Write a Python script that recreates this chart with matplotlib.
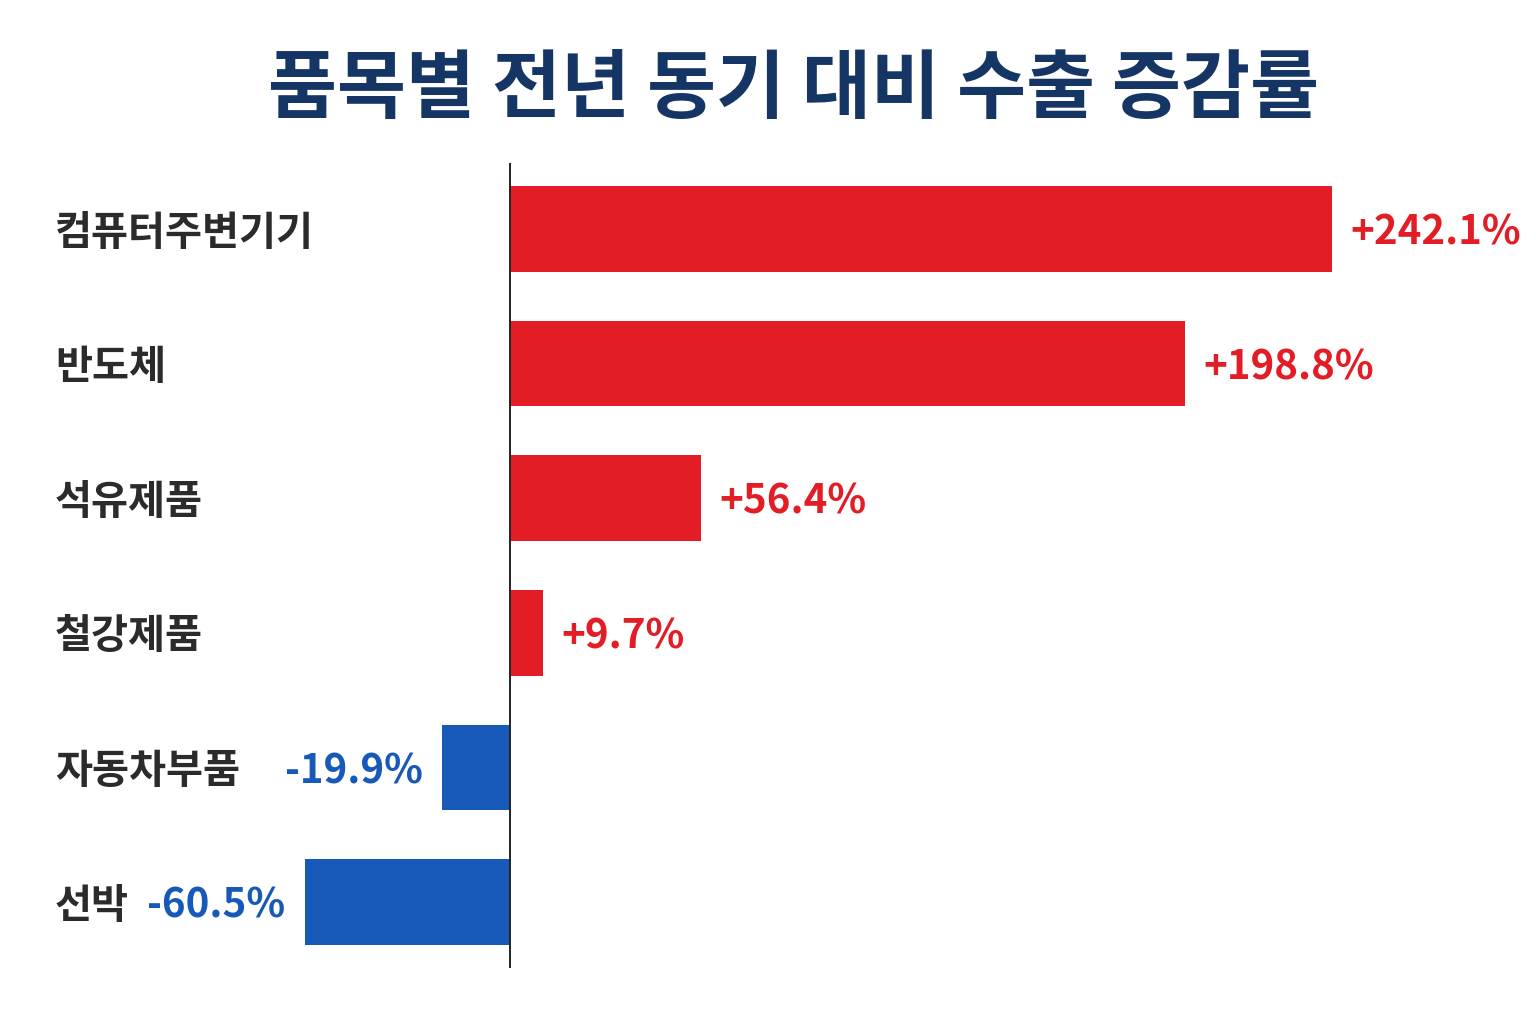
import matplotlib
matplotlib.use("Agg")
import matplotlib.pyplot as plt
import matplotlib.transforms as mtransforms

plt.rcParams['font.family'] = ['Noto Sans CJK KR', 'DejaVu Sans']

# data
categories = ['컴퓨터주변기기', '반도체', '석유제품', '철강제품', '자동차부품', '선박']
changes = [242.1, 198.8, 56.4, 9.7, -19.9, -60.5]
value_labels = ['+242.1%', '+198.8%', '+56.4%', '+9.7%', '-19.9%', '-60.5%']
title = '품목별 전년 동기 대비 수출 증감률'

RED = '#E31D25'
BLUE = '#1759B8'
NAVY = '#153565'
LABEL = '#2b2b2b'

W, H = 1536, 1024
fig = plt.figure(figsize=(W / 100, H / 100), dpi=100)
fig.patch.set_facecolor('white')

# axes spans full width; zero line sits at x=510px
ax = fig.add_axes([0, (H - 968) / H, 1, 805 / H])
ppu = 822 / 242.1
ax.set_xlim(-510 / ppu, (W - 510) / ppu)
ax.set_ylim(5 + 66 / 134.6, -66 / 134.6)
ax.axis('off')

ypos = list(range(len(categories)))
colors = [RED if v >= 0 else BLUE for v in changes]
ax.barh(ypos, changes, height=0.635, color=colors, zorder=2)
ax.axvline(0, color='#222222', lw=1.4, zorder=3)

# category names on the left (nudged down a little to sit on bar centre)
trans = mtransforms.blended_transform_factory(fig.transFigure, ax.transData)
trans = trans + mtransforms.ScaledTranslation(0, -3 / 72, fig.dpi_scale_trans)
for y, name in zip(ypos, categories):
    ax.text(55 / W, y, name, transform=trans, ha='left', va='center',
            fontsize=29, fontweight='bold', color=LABEL)

# value labels beside each bar
for y, v, lab, c in zip(ypos, changes, value_labels, colors):
    off = 13 if v >= 0 else -14
    ax.annotate(lab, xy=(v, y), xytext=(off, -3), textcoords='offset points',
                ha='left' if v >= 0 else 'right', va='center',
                fontsize=29, fontweight='bold', color=c)

fig.text(793 / W, 1 - 90 / H, title, ha='center', va='center',
         fontsize=54, fontweight='bold', color=NAVY)

fig.savefig('out.png', dpi=100, facecolor='white')
